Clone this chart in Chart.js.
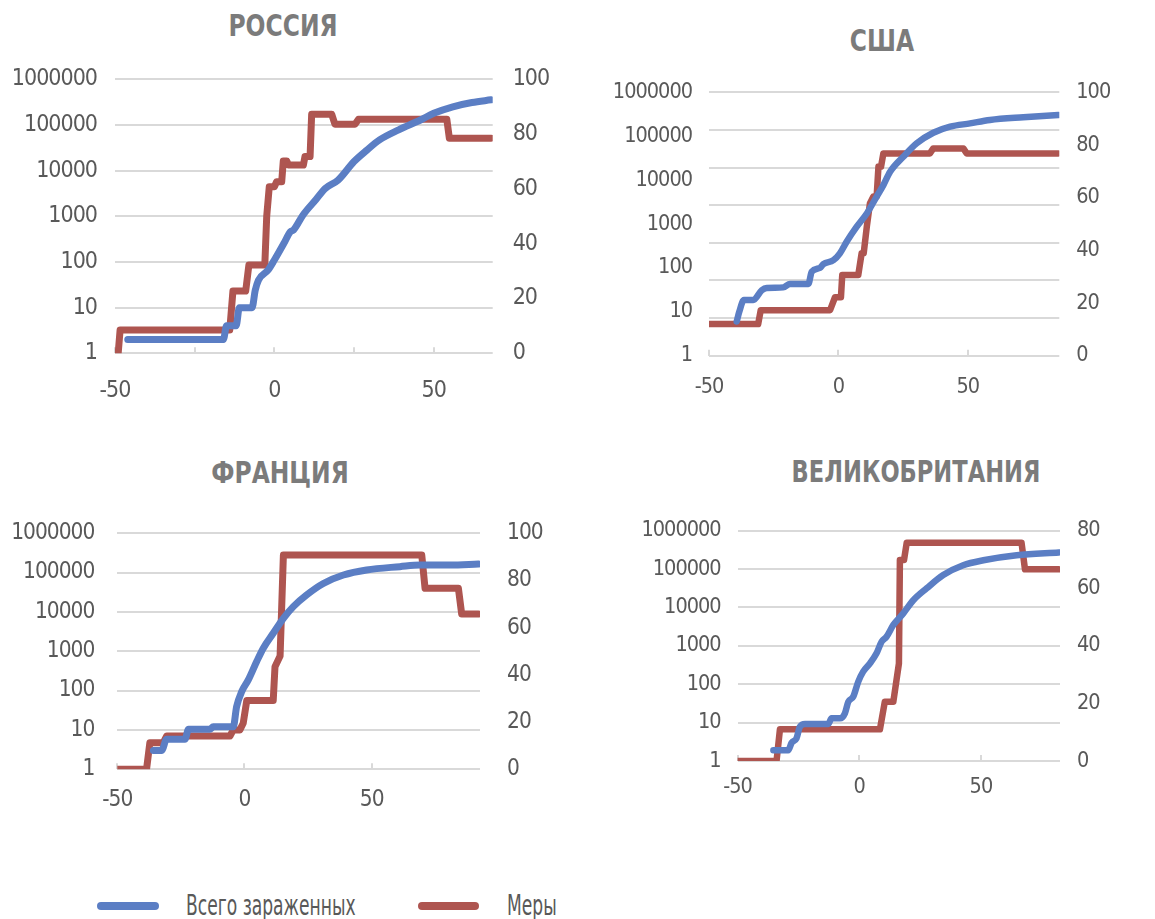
<!DOCTYPE html>
<html>
<head>
<meta charset="utf-8">
<script src="https://cdn.jsdelivr.net/npm/chart.js@4.4.1/dist/chart.umd.min.js"></script>
<style>
    body { margin: 0; background: #fff; width: 1155px; height: 919px; position: relative; overflow: hidden;
           font-family: "DejaVu Sans Condensed", "DejaVu Sans", sans-serif; }
    canvas { position: absolute; }
    .title { position: absolute; transform: translate(-50%, -50%) scaleX(0.84); font-weight: bold; font-size: 31px;
             line-height: 1; color: #7b7b7b; white-space: nowrap; }
    .swatch { position: absolute; height: 8px; border-radius: 4px; }
    .label { position: absolute; transform: translateY(-50%) scaleX(0.68); transform-origin: left center;
             font-size: 28px; line-height: 1; color: #595959; white-space: nowrap; }
</style>
</head>
<body>
<div class="title" style="left:283px;top:25px">РОССИЯ</div>
<div class="title" style="left:882px;top:40px">США</div>
<div class="title" style="left:280px;top:472px">ФРАНЦИЯ</div>
<div class="title" style="left:916px;top:471px;transform:translate(-50%, -50%) scaleX(0.81)">ВЕЛИКОБРИТАНИЯ</div>

<canvas id="ru" width="580" height="360" style="left:0;top:55px"></canvas>
<canvas id="us" width="565" height="360" style="left:590px;top:55px"></canvas>
<canvas id="fr" width="580" height="330" style="left:0;top:495px"></canvas>
<canvas id="uk" width="565" height="330" style="left:590px;top:495px"></canvas>

<div class="swatch" style="left:97px;top:902px;width:62px;background:#5b7ec4"></div>
<div class="label" style="left:186px;top:906px">Всего зараженных</div>
<div class="swatch" style="left:418px;top:902px;width:61px;background:#ae5550"></div>
<div class="label" style="left:507px;top:906px">Меры</div>

<script>
// days are counted from the day of ~100 cases; cases on log axis, measures index on right axis
const logTicks = [1, 10, 100, 1000, 10000, 100000, 1000000];

const ruCaseDays = [-46, -16, -15, -12, -11, -7, -6, -5, -2, 0, 3, 5, 6, 9, 13, 16, 20, 25, 29, 33, 39, 46, 50, 56, 62, 68];
const ruCases = [2, 2, 4, 4, 10, 10, 24, 40, 66, 110, 256, 460, 500, 1070, 2300, 4100, 6200, 15800, 28000, 47000, 78000, 130000, 180000, 250000, 310000, 355000];
const ruMeasureDays = [-49, -48.4, -14, -13, -9, -8, -3, -2.4, -1.6, 0, 0.7, 2.3, 2.8, 3.9, 4.4, 9.1, 9.6, 11.2, 11.7, 18, 19, 25.3, 26.4, 54.1, 54.9, 68];
const ruMeasures = [0, 8.5, 8.5, 22.7, 22.7, 32.2, 32.2, 50, 60.8, 60.8, 62.6, 62.6, 70.2, 70.2, 68.7, 68.7, 71.8, 71.8, 87.2, 87.2, 83.6, 83.6, 85.4, 85.4, 78.5, 78.5];

const usCaseDays = [-39.3, -38.3, -36.5, -32.9, -29.6, -27.7, -21.3, -18.7, -11.6, -10.3, -7.1, -5.8, -1.9, 0.6, 3.2, 7.1, 11, 14.8, 17.4, 20, 25.1, 30.3, 36.7, 43.2, 50.9, 58.6, 71.5, 85];
const usCases = [6, 10, 18.5, 18.5, 31, 35, 36, 43, 43, 82, 100, 122, 150, 215, 395, 870, 1740, 4200, 7700, 15500, 34000, 69000, 120000, 165000, 196000, 234000, 270000, 304000];
const usMeasureDays = [-50, -31, -30, -3.2, -1.3, 1, 1.5, 7.7, 9, 9.8, 11, 12.2, 13.5, 14.8, 15.5, 16.5, 17.4, 35.4, 36.7, 48.3, 49.6, 85];
const usMeasures = [12, 12, 17.3, 17.3, 22.2, 22.2, 30.6, 30.6, 38.9, 38.9, 49, 57.8, 60.4, 60.4, 71.8, 71.8, 76.8, 76.8, 78.7, 78.7, 76.8, 76.8];

const frCaseDays = [-35.8, -32.6, -30.6, -23.4, -22, -13.6, -12.3, -4.4, -3.1, -1.1, 1.5, 4.8, 7.4, 11.3, 15.3, 19.2, 24.4, 31, 38.9, 48, 61.1, 69, 80.8, 92];
const frCases = [3, 3, 5.8, 5.8, 10.4, 10.4, 12, 12, 39, 94, 187, 550, 1200, 2870, 6900, 13700, 27000, 53000, 87000, 117000, 142000, 156000, 156000, 166000];
const frMeasureDays = [-50, -38.5, -37.2, -31.9, -30.6, -5.7, -4.4, -1.8, -0.5, 0.9, 11.3, 12, 14, 15.3, 69.7, 71, 84.1, 85.4, 92];
const frMeasures = [0, 0, 11.3, 11.3, 14.1, 14.1, 16.7, 16.7, 19.5, 29.1, 29.1, 43.5, 48, 90.8, 90.8, 76.7, 76.7, 65.8, 65.8];

const ukCaseDays = [-35.3, -29.2, -27.8, -25.8, -24.4, -22.3, -12.7, -11.4, -7.9, -5.9, -4.5, -2.5, -0.4, 1.6, 4.4, 7.1, 9.2, 11.2, 14, 18.1, 22.2, 27.7, 34.5, 42.7, 51, 64.7, 82];
const ukCases = [1.9, 1.9, 3, 3.9, 7.8, 9.2, 9.2, 12.9, 12.9, 17.4, 35, 47, 117, 213, 350, 640, 1290, 1730, 3500, 7000, 15400, 31500, 70000, 126000, 170000, 230000, 272000];
const ukMeasureDays = [-50, -34, -32.6, 8.5, 10.5, 14, 16.3, 16.7, 18.4, 19.5, 66.7, 68.1, 82];
const ukMeasures = [0, 0, 11, 11, 20.6, 20.6, 33.9, 69.8, 69.8, 75.8, 75.8, 66.6, 66.6];

const BLUE = '#5b7ec4';
const RED = '#ae5550';
const GRID = '#d9d9d9';
const TICK = '#595959';
const FONT = '"DejaVu Sans Condensed", "DejaVu Sans", sans-serif';

// squeeze the tick text a little, the original uses a condensed face
const tightText = {
    id: 'tightText',
    beforeDraw(chart) {
        chart.ctx.letterSpacing = '-1px';
    }
};

function toPoints(days, values) {
    return days.map((d, i) => ({ x: d, y: values[i] }));
}

function buildChart(id, o) {
    const canvas = document.getElementById(id);
    const boxLeft = parseFloat(canvas.style.left), boxTop = parseFloat(canvas.style.top);
    const w = canvas.width, h = canvas.height;
    const font = { family: FONT, size: o.fs };

    const scales = {
        x: {
            type: 'linear', min: -50, max: o.xMax,
            border: { display: false },
            grid: { drawOnChartArea: false, drawTicks: true, tickLength: -6, color: GRID, lineWidth: 2 },
            ticks: { color: TICK, font: font, padding: o.xPad, callback: v => (v % 50 === 0 ? String(v) : '') },
            afterBuildTicks: s => { s.ticks = o.xTicks.map(v => ({ value: v })); },
            afterFit: s => { s.height = boxTop + h - o.bottom; s.paddingLeft = 0; s.paddingRight = 0; }
        },
        y: {
            type: 'logarithmic', position: 'left', min: 1, max: 1000000,
            border: { display: false },
            grid: { display: !o.ownGrid, drawTicks: false, color: GRID, lineWidth: 2 },
            ticks: { color: TICK, font: font, padding: o.lPad, callback: v => String(v) },
            afterBuildTicks: s => { s.ticks = logTicks.map(v => ({ value: v })); },
            afterFit: s => { s.width = o.left - boxLeft; s.paddingTop = 0; s.paddingBottom = 0; }
        },
        y1: {
            type: 'linear', position: 'right', min: 0, max: o.rMax,
            border: { display: false },
            grid: { display: false, drawTicks: false },
            ticks: { color: TICK, font: font, padding: o.rPad, stepSize: 20 },
            afterFit: s => { s.width = boxLeft + w - o.right; s.paddingTop = 0; s.paddingBottom = 0; }
        }
    };
    if (o.ownGrid) {
        // the US panel has its gridlines on a different spacing than its labels
        scales.g = {
            type: 'linear', position: 'left', min: 0, max: o.ownGrid,
            border: { display: false },
            grid: { drawTicks: false, color: GRID, lineWidth: 2 },
            ticks: { display: false, stepSize: 1 },
            afterFit: s => { s.width = 0; s.paddingTop = 0; s.paddingBottom = 0; }
        };
    }

    return new Chart(canvas, {
        type: 'line',
        data: {
            datasets: [
                {
                    label: 'Всего зараженных',
                    data: toPoints(o.caseDays, o.cases),
                    yAxisID: 'y',
                    borderColor: BLUE,
                    borderWidth: o.lw,
                    pointRadius: 0,
                    cubicInterpolationMode: 'monotone',
                    borderCapStyle: 'round',
                    borderJoinStyle: 'round',
                },
                {
                    label: 'Меры',
                    data: toPoints(o.measureDays, o.measures),
                    yAxisID: 'y1',
                    borderColor: RED,
                    borderWidth: o.lw,
                    pointRadius: 0,
                    tension: 0,
                    borderCapStyle: 'round',
                    borderJoinStyle: 'round',
                },
            ],
        },
        options: {
            responsive: false,
            animation: false,
            layout: { padding: { top: o.top - boxTop, left: 0, right: 0, bottom: 0 } },
            scales: scales,
            plugins: {
                legend: { display: false },
                tooltip: { enabled: false },
            },
        },
        plugins: [tightText],
    });
}

buildChart('ru', {
    caseDays: ruCaseDays, cases: ruCases, measureDays: ruMeasureDays, measures: ruMeasures,
    left: 115, right: 492.7, top: 79.3, bottom: 353.3,
    xMax: 68.5, xTicks: [-50, -25, 0, 25, 50], rMax: 100,
    fs: 23, lPad: 18, rPad: 20, xPad: 30, lw: 7,
});

buildChart('us', {
    caseDays: usCaseDays, cases: usCases, measureDays: usMeasureDays, measures: usMeasures,
    left: 709, right: 1059.3, top: 92.3, bottom: 355.7,
    xMax: 85.4, xTicks: [-50, 0, 50], rMax: 100, ownGrid: 7,
    fs: 21.5, lPad: 17, rPad: 17, xPad: 25, lw: 6.5,
});

buildChart('fr', {
    caseDays: frCaseDays, cases: frCases, measureDays: frMeasureDays, measures: frMeasures,
    left: 117.3, right: 480, top: 533.3, bottom: 769.3,
    xMax: 92.6, xTicks: [-50, 0, 50], rMax: 100,
    fs: 22.5, lPad: 23, rPad: 27, xPad: 23, lw: 7,
});

buildChart('uk', {
    caseDays: ukCaseDays, cases: ukCases, measureDays: ukMeasureDays, measures: ukMeasures,
    left: 737.6, right: 1060, top: 530.7, bottom: 761,
    xMax: 82.5, xTicks: [-50, 0, 50], rMax: 80,
    fs: 21.5, lPad: 17, rPad: 17, xPad: 20, lw: 6.5,
});
</script>
</body>
</html>
